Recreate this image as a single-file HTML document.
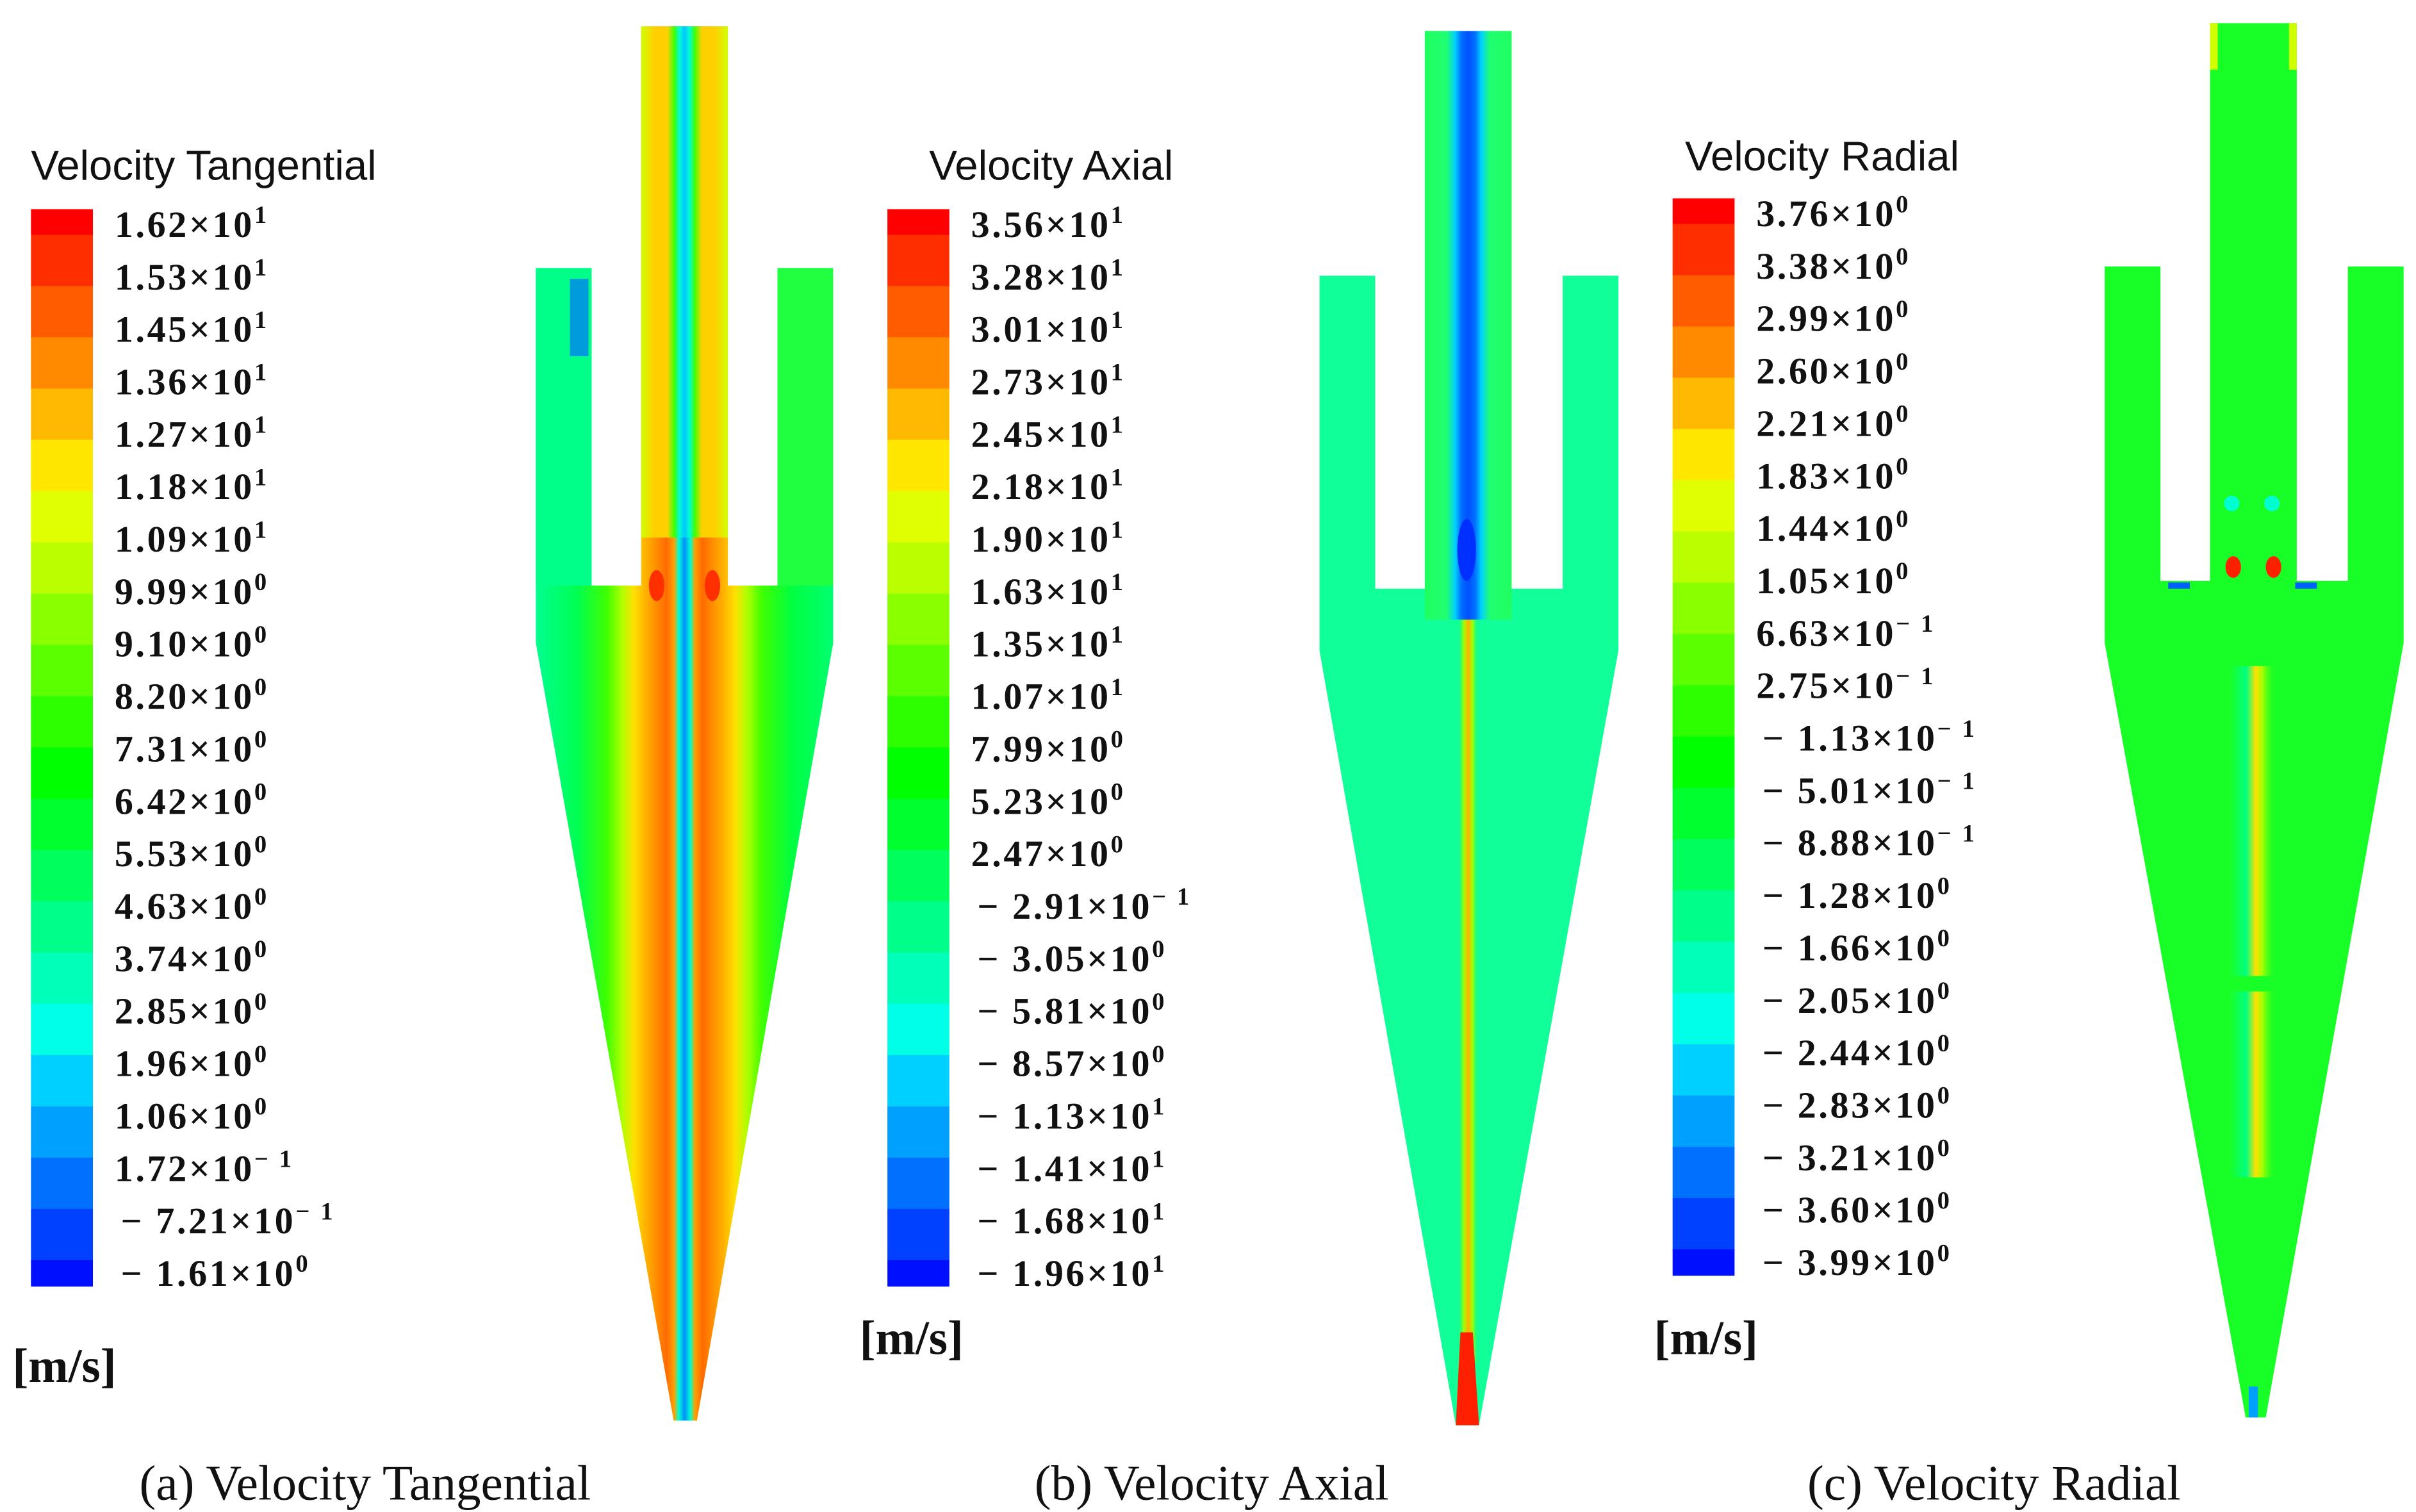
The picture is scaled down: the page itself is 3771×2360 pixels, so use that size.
<!DOCTYPE html>
<html><head><meta charset="utf-8">
<style>
html,body{margin:0;padding:0;background:#fff;}
svg{display:block;}
.ttl{font-family:"Liberation Sans",sans-serif;font-size:27px;fill:#111;}
.lbl{font-family:"Liberation Serif",serif;font-size:24px;font-weight:bold;fill:#111;letter-spacing:1.5px;}
.cap{font-family:"Liberation Serif",serif;font-size:32px;fill:#111;}
.unit{font-family:"Liberation Serif",serif;font-size:31px;font-weight:bold;fill:#111;}
</style></head>
<body>
<svg id="fig" width="3771" height="2360" viewBox="0 0 1560 976" preserveAspectRatio="none" xmlns="http://www.w3.org/2000/svg">
<defs>
<linearGradient id="gAbody" gradientUnits="userSpaceOnUse" x1="346" y1="0" x2="538" y2="0">
<stop offset="0" stop-color="#00ff90"/><stop offset="0.14" stop-color="#00ff50"/><stop offset="0.24" stop-color="#40ff00"/>
<stop offset="0.29" stop-color="#b0ff00"/><stop offset="0.33" stop-color="#ffe000"/><stop offset="0.37" stop-color="#ffb000"/>
<stop offset="0.41" stop-color="#ff8a00"/><stop offset="0.44" stop-color="#ff6a00"/><stop offset="0.465" stop-color="#ffa000"/>
<stop offset="0.48" stop-color="#00ffd0"/><stop offset="0.5" stop-color="#0090ff"/><stop offset="0.52" stop-color="#00ffd0"/>
<stop offset="0.535" stop-color="#ffa000"/><stop offset="0.56" stop-color="#ff6a00"/><stop offset="0.59" stop-color="#ff8a00"/>
<stop offset="0.63" stop-color="#ffb000"/><stop offset="0.67" stop-color="#ffe000"/><stop offset="0.71" stop-color="#b0ff00"/>
<stop offset="0.76" stop-color="#40ff00"/><stop offset="0.86" stop-color="#00ff40"/><stop offset="1" stop-color="#00ff70"/>
</linearGradient>
<linearGradient id="gAtube" gradientUnits="userSpaceOnUse" x1="414" y1="0" x2="470" y2="0">
<stop offset="0" stop-color="#d0ff00"/><stop offset="0.15" stop-color="#ffd000"/><stop offset="0.3" stop-color="#ffd000"/>
<stop offset="0.38" stop-color="#40ff00"/><stop offset="0.44" stop-color="#00ffd0"/><stop offset="0.5" stop-color="#00c8ff"/>
<stop offset="0.56" stop-color="#00ffd0"/><stop offset="0.62" stop-color="#40ff00"/><stop offset="0.7" stop-color="#ffd000"/>
<stop offset="0.85" stop-color="#ffd000"/><stop offset="1" stop-color="#d0ff00"/>
</linearGradient>
<linearGradient id="gBtube" gradientUnits="userSpaceOnUse" x1="920" y1="0" x2="976" y2="0">
<stop offset="0" stop-color="#20ff60"/><stop offset="0.25" stop-color="#20ff70"/><stop offset="0.35" stop-color="#00d0ff"/>
<stop offset="0.42" stop-color="#0070ff"/><stop offset="0.5" stop-color="#0050ff"/><stop offset="0.58" stop-color="#0070ff"/>
<stop offset="0.65" stop-color="#00d0ff"/><stop offset="0.75" stop-color="#20ff70"/><stop offset="1" stop-color="#20ff60"/>
</linearGradient>
<linearGradient id="gBline" gradientUnits="userSpaceOnUse" x1="941" y1="0" x2="955" y2="0">
<stop offset="0" stop-color="#00ff90" stop-opacity="0"/><stop offset="0.3" stop-color="#a0ff00"/><stop offset="0.5" stop-color="#ffb000"/>
<stop offset="0.7" stop-color="#a0ff00"/><stop offset="1" stop-color="#00ff90" stop-opacity="0"/>
</linearGradient>
<linearGradient id="gCline" gradientUnits="userSpaceOnUse" x1="1440" y1="0" x2="1470" y2="0">
<stop offset="0" stop-color="#00ff80" stop-opacity="0"/><stop offset="0.35" stop-color="#00ff80"/><stop offset="0.55" stop-color="#ffe000"/>
<stop offset="0.7" stop-color="#a0ff00"/><stop offset="1" stop-color="#10ff20" stop-opacity="0"/>
</linearGradient>
</defs>

<g>
<path d="M346,173 H382 V378 H414 V17 H470 V378 H502 V173 H538 V415 L450,917 H435 L346,415 Z" fill="url(#gAbody)"/>
<rect x="414" y="17" width="56" height="330" fill="url(#gAtube)"/>
<rect x="346" y="173" width="36" height="205" fill="#00ff88"/>
<rect x="368" y="180" width="12" height="50" fill="#0070ff" opacity="0.7"/>
<rect x="502" y="173" width="36" height="205" fill="#20ff40"/>
<ellipse cx="424" cy="378" rx="5" ry="10" fill="#ff3000"/><ellipse cx="460" cy="378" rx="5" ry="10" fill="#ff3000"/>
</g>

<g>
<path d="M852,178 H888 V380 H920 V20 H976 V380 H1009 V178 H1045 V420 L955,920 H940 L852,420 Z" fill="#10ff98"/>
<rect x="920" y="20" width="56" height="380" fill="url(#gBtube)"/>
<ellipse cx="947" cy="355" rx="6" ry="20" fill="#0030ff"/>
<rect x="941" y="400" width="14" height="480" fill="url(#gBline)"/>
<path d="M943,860 L951,860 L955,920 L940,920 Z" fill="#ff2000"/>
</g>

<g>
<path d="M1359,172 H1395 V375 H1427 V15 H1483 V375 H1516 V172 H1552 V415 L1463,915 H1450 L1359,415 Z" fill="#18ff28"/>
<rect x="1427" y="15" width="5" height="30" fill="#d0ff00"/><rect x="1478" y="15" width="5" height="30" fill="#d0ff00"/>
<rect x="1440" y="430" width="30" height="200" fill="url(#gCline)"/>
<rect x="1440" y="640" width="30" height="120" fill="url(#gCline)"/>
<circle cx="1441" cy="325" r="5" fill="#00ffd0"/><circle cx="1467" cy="325" r="5" fill="#00ffd0"/>
<ellipse cx="1442" cy="366" rx="5" ry="7" fill="#ff2000"/><ellipse cx="1468" cy="366" rx="5" ry="7" fill="#ff2000"/>
<rect x="1400" y="376" width="14" height="4" fill="#0060ff"/><rect x="1482" y="376" width="14" height="4" fill="#0060ff"/>
<rect x="1452" y="895" width="6" height="20" fill="#00a0ff"/>
</g>

<g id="legends"></g>

<text class="cap" x="90" y="968">(a) Velocity Tangential</text>
<text class="cap" x="668" y="968">(b) Velocity Axial</text>
<text class="cap" x="1167" y="968">(c) Velocity Radial</text>
</svg>

<script>
const bandColors = ["#ff0000","#ff2e00","#ff5c00","#ff8a00","#ffb900","#ffe700","#e0ff00","#b9ff00","#8aff00","#5cff00","#2eff00","#00ff00","#00ff2e","#00ff5c","#00ff8a","#00ffb9","#00ffe7","#00d0ff","#00a0ff","#0070ff","#0040ff","#0010ff"];
const mantA = ["1.62","1.53","1.45","1.36","1.27","1.18","1.09","9.99","9.10","8.20","7.31","6.42","5.53","4.63","3.74","2.85","1.96","1.06","1.72","\u22127.21","\u22121.61"];
const expA = ["1","1","1","1","1","1","1","0","0","0","0","0","0","0","0","0","0","0","\u22121","\u22121","0"];
const mantB = ["3.56","3.28","3.01","2.73","2.45","2.18","1.90","1.63","1.35","1.07","7.99","5.23","2.47","\u22122.91","\u22123.05","\u22125.81","\u22128.57","\u22121.13","\u22121.41","\u22121.68","\u22121.96"];
const expB = ["1","1","1","1","1","1","1","1","1","1","0","0","0","\u22121","0","0","0","1","1","1","1"];
const mantC = ["3.76","3.38","2.99","2.60","2.21","1.83","1.44","1.05","6.63","2.75","\u22121.13","\u22125.01","\u22128.88","\u22121.28","\u22121.66","\u22122.05","\u22122.44","\u22122.83","\u22123.21","\u22123.60","\u22123.99"];
const expC = ["0","0","0","0","0","0","0","0","\u22121","\u22121","\u22121","\u22121","\u22121","0","0","0","0","0","0","0","0"];

const NS = "http://www.w3.org/2000/svg";
const root = document.getElementById("legends");
function legend(key, title, tx, ty, bx, by, bh, mant, exp, ux, uy, unitText) {
  const g = document.createElementNS(NS, "g");
  
  
  root.appendChild(g);
  const t = document.createElementNS(NS, "text");
  t.setAttribute("class", "ttl"); t.setAttribute("x", tx); t.setAttribute("y", ty);
  t.textContent = title;
  
  
  g.appendChild(t);
  const step = bh / (mant.length);
  for (let i = 0; i < bandColors.length; i++) {
    const y0 = i === 0 ? by : by + step * (i - 0.5);
    const y1 = i === bandColors.length - 1 ? by + bh : by + step * (i + 0.5);
    const r = document.createElementNS(NS, "rect");
    r.setAttribute("x", bx); r.setAttribute("y", y0); r.setAttribute("width", 40); r.setAttribute("height", y1 - y0 + 0.5);
    r.setAttribute("fill", bandColors[i]);
    
    
    g.appendChild(r);
  }
  for (let i = 0; i < mant.length; i++) {
    const neg = mant[i].startsWith("\u2212");
    const tt = document.createElementNS(NS, "text");
    tt.setAttribute("class", "lbl");
    tt.setAttribute("x", bx + (neg ? 58 : 54));
    tt.setAttribute("y", by + 18 + i * ((bh - 18) / (mant.length - 1)));
    
    
    const m = neg ? "\u2212 " + mant[i].slice(1) : mant[i];
    tt.appendChild(document.createTextNode(m + "\u00d710"));
    const s = document.createElementNS(NS, "tspan");
    s.setAttribute("dy", "-9"); s.setAttribute("font-size", "16");
    s.textContent = exp[i].startsWith("\u2212") ? "\u2212 " + exp[i].slice(1) : exp[i];
    tt.appendChild(s);
    g.appendChild(tt);
  }
  const u = document.createElementNS(NS, "text");
  u.setAttribute("class", "unit"); u.setAttribute("x", ux); u.setAttribute("y", uy);
  u.textContent = unitText;
  
  
  g.appendChild(u);
}
legend("tangential", "Velocity Tangential", 20, 116, 20, 135, 695, mantA, expA, 8, 892, "[m/s]");
legend("axial", "Velocity Axial", 600, 116, 573, 135, 695, mantB, expB, 555, 874, "[m/s]");
legend("radial", "Velocity Radial", 1088, 110, 1080, 128, 695, mantC, expC, 1068, 874, "[m/s]");
</script>
</body></html>
